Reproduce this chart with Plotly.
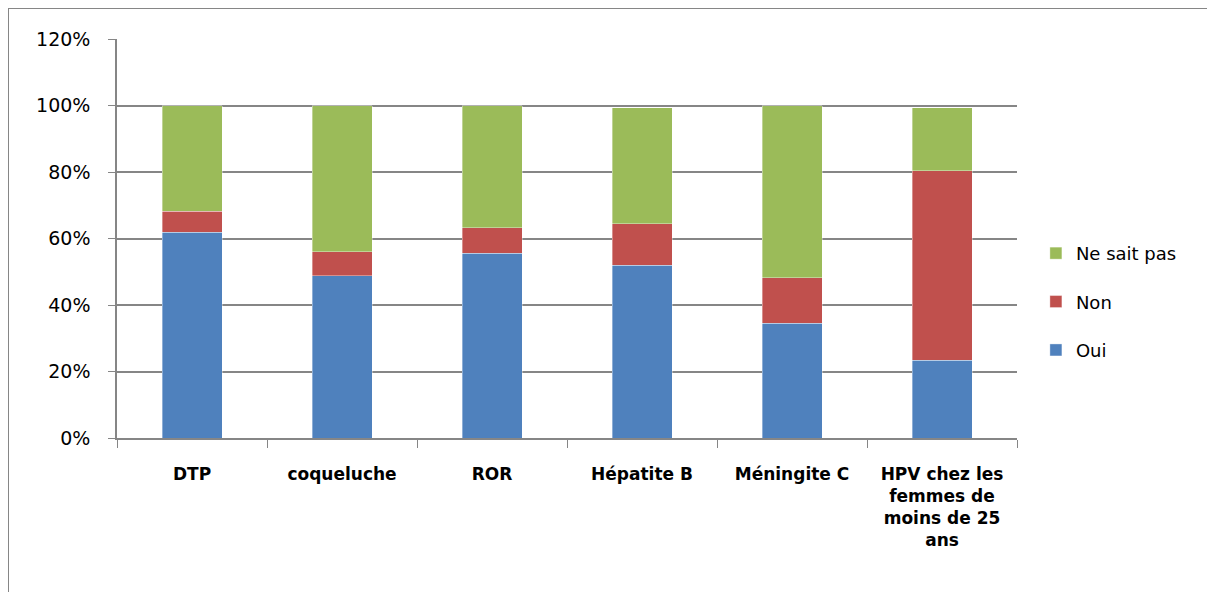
import plotly.graph_objects as go

categories = ["DTP", "coqueluche", "ROR", "Hépatite B", "Méningite C",
              "HPV chez les<br>femmes de<br>moins de 25<br>ans"]
oui = [0.619, 0.488, 0.555, 0.519, 0.345, 0.234]
non = [0.063, 0.072, 0.077, 0.126, 0.137, 0.570]
ne_sait_pas = [0.318, 0.440, 0.368, 0.348, 0.518, 0.189]
series_names = ["Oui", "Non", "Ne sait pas"]
colors = ["#4F81BD", "#C0504D", "#9BBB59"]
legend_ranks = [3, 2, 1]
y_ticks = [0, 0.2, 0.4, 0.6, 0.8, 1.0, 1.2]
y_ticklabels = ["0%", "20%", "40%", "60%", "80%", "100%", "120%"]

W, H = 1215, 592
L, R, T, B = 109, 206, 31, 162
FONT = "DejaVu Sans, sans-serif"
GREY = "#868686"

fig = go.Figure()
for name, vals, col, rk in zip(series_names, [oui, non, ne_sait_pas], colors, legend_ranks):
    fig.add_trace(go.Bar(
        x=categories, y=vals, name=name, legendgroup=name, legendrank=rk,
        marker=dict(color=col, line=dict(color="rgba(255,255,255,0.6)", width=0.6)),
        width=0.4,
    ))

pw = W - L - R
ph = H - T - B
px0 = -L / pw
py0 = (H - B) / ph

fig.update_layout(
    width=W, height=H,
    margin=dict(l=L, r=R, t=T, b=B, pad=0),
    barmode="stack",
    paper_bgcolor="white", plot_bgcolor="white",
    font=dict(family=FONT, size=18, color="black"),
    showlegend=True,
    legend=dict(x=1.021, y=0.341, xanchor="left", yanchor="middle",
                traceorder="grouped", tracegroupgap=22,
                font=dict(size=18, family=FONT), itemwidth=30),
    xaxis=dict(
        type="category", tickson="boundaries", ticks="outside", ticklen=8,
        tickcolor=GREY, showline=True, linecolor=GREY, linewidth=1.5,
        showgrid=False, tickfont=dict(size=17, family=FONT, weight="bold"),
        ticklabelstandoff=20,
    ),
    yaxis=dict(
        range=[0, 1.2], tickvals=y_ticks, ticktext=y_ticklabels,
        ticks="outside", ticklen=7, tickcolor=GREY,
        showline=True, linecolor=GREY, linewidth=1.5,
        showgrid=True, gridcolor=GREY, gridwidth=1.5,
        zeroline=False, tickfont=dict(size=19, family=FONT),
        ticklabelstandoff=14,
    ),
    shapes=[
        dict(type="line", xref="paper", yref="paper", x0=px0, x1=(W - L) / pw + 0.02,
             y0=py0, y1=py0, line=dict(color=GREY, width=2)),
        dict(type="line", xref="paper", yref="paper", x0=px0, x1=px0,
             y0=py0, y1=-B / ph - 0.02, line=dict(color=GREY, width=2)),
    ],
)

fig.write_html("out.html")
